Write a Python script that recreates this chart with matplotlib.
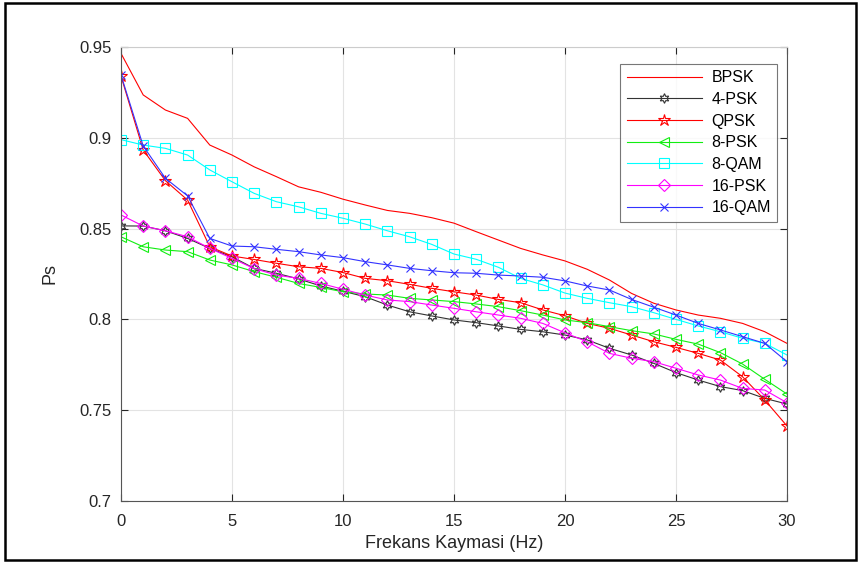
import numpy as np
import matplotlib
matplotlib.use("Agg")
import matplotlib.pyplot as plt
from matplotlib.patches import Rectangle

plt.rcParams['font.family'] = ['Liberation Sans', 'DejaVu Sans']

# frequency offset (Hz)
freq = list(range(31))

bpsk = [0.9465, 0.9236, 0.9153, 0.9107, 0.8960, 0.8905, 0.8840, 0.8786, 0.8730, 0.8700,
        0.8662, 0.8630, 0.8600, 0.8584, 0.8560, 0.8530, 0.8483, 0.8437, 0.8391, 0.8355,
        0.8322, 0.8276, 0.8217, 0.8143, 0.8089, 0.8052, 0.8024, 0.8006, 0.7978, 0.7932,
        0.7868]
psk4 = [0.8515, 0.8514, 0.8488, 0.8446, 0.8391, 0.8345, 0.8281, 0.8254, 0.8223, 0.8184,
        0.8155, 0.8125, 0.8079, 0.8042, 0.8019, 0.7997, 0.7982, 0.7964, 0.7945, 0.7932,
        0.7914, 0.7887, 0.7841, 0.7804, 0.7758, 0.7707, 0.7666, 0.7630, 0.7608, 0.7565,
        0.7534]
qpsk = [0.9340, 0.8933, 0.8764, 0.8657, 0.8400, 0.8349, 0.8330, 0.8309, 0.8290, 0.8281,
        0.8258, 0.8226, 0.8213, 0.8193, 0.8171, 0.8152, 0.8134, 0.8110, 0.8092, 0.8052,
        0.8020, 0.7978, 0.7951, 0.7914, 0.7877, 0.7846, 0.7813, 0.7776, 0.7684, 0.7556,
        0.7413]
psk8 = [0.8455, 0.8400, 0.8382, 0.8373, 0.8327, 0.8300, 0.8263, 0.8232, 0.8198, 0.8176,
        0.8152, 0.8140, 0.8134, 0.8116, 0.8107, 0.8098, 0.8085, 0.8070, 0.8048, 0.8024,
        0.7997, 0.7982, 0.7960, 0.7938, 0.7920, 0.7890, 0.7864, 0.7817, 0.7754, 0.7670,
        0.7589]
qam8 = [0.8990, 0.8960, 0.8942, 0.8905, 0.8823, 0.8758, 0.8694, 0.8648, 0.8620, 0.8584,
        0.8557, 0.8525, 0.8488, 0.8455, 0.8413, 0.8360, 0.8331, 0.8287, 0.8226, 0.8190,
        0.8145, 0.8116, 0.8092, 0.8070, 0.8037, 0.8000, 0.7964, 0.7932, 0.7896, 0.7868,
        0.7804]
psk16 = [0.8575, 0.8514, 0.8488, 0.8455, 0.8391, 0.8336, 0.8280, 0.8244, 0.8226, 0.8198,
         0.8166, 0.8134, 0.8107, 0.8098, 0.8079, 0.8061, 0.8042, 0.8024, 0.8006, 0.7978,
         0.7926, 0.7877, 0.7813, 0.7786, 0.7767, 0.7731, 0.7694, 0.7666, 0.7620, 0.7611,
         0.7541]
qam16 = [0.9346, 0.8955, 0.8777, 0.8680, 0.8446, 0.8404, 0.8400, 0.8386, 0.8373, 0.8355,
         0.8340, 0.8318, 0.8300, 0.8281, 0.8268, 0.8257, 0.8254, 0.8244, 0.8239, 0.8232,
         0.8212, 0.8184, 0.8162, 0.8110, 0.8067, 0.8024, 0.7978, 0.7942, 0.7905, 0.7868,
         0.7767]

labels = ['BPSK', '4-PSK', 'QPSK', '8-PSK', '8-QAM', '16-PSK', '16-QAM']

fig = plt.figure(figsize=(8.59, 5.62), dpi=100)
ax = fig.add_axes([121 / 859, 1 - 501 / 562, 666 / 859, 454 / 562])

lw = 0.8
ms = 7
ax.plot(freq, bpsk, color='red', lw=lw, label=labels[0])
ax.plot(freq, psk4, color='#333333', lw=lw, marker=(6, 1, 0), ms=ms, mfc='none', mew=0.8,
        label=labels[1])
ax.plot(freq, qpsk, color='red', lw=lw, marker='*', ms=ms + 2, mfc='none', mew=0.8,
        label=labels[2])
ax.plot(freq, psk8, color='#11ee11', lw=lw, marker='<', ms=ms, mfc='none', mew=0.8,
        label=labels[3])
ax.plot(freq, qam8, color='cyan', lw=lw, marker='s', ms=ms, mfc='none', mew=0.8,
        label=labels[4])
ax.plot(freq, psk16, color='magenta', lw=lw, marker='D', ms=ms - 1, mfc='none', mew=0.8,
        label=labels[5])
ax.plot(freq, qam16, color='#3333ff', lw=lw, marker='x', ms=ms - 1, mew=0.8,
        label=labels[6])

ax.set_xlim(0, 30)
ax.set_ylim(0.7, 0.95)
ax.set_xticks(range(0, 31, 5))
ax.set_yticks([0.7, 0.75, 0.8, 0.85, 0.9, 0.95])
ax.set_yticklabels(['0.7', '0.75', '0.8', '0.85', '0.9', '0.95'])
ax.grid(True, color='#e3e3e3', lw=0.8)
ax.set_axisbelow(True)
ax.tick_params(direction='in', top=True, right=True, labelsize=12, colors='#262626',
               length=5, width=0.8)
ax.tick_params(axis='x', pad=9)
ax.tick_params(axis='y', pad=7)
for s in ax.spines.values():
    s.set_color('#555555')
    s.set_linewidth(0.8)
ax.spines['top'].set_color('#cccccc')

ax.set_xlabel('Frekans Kaymasi (Hz)', fontsize=13, color='#262626', labelpad=5)
ax.set_ylabel('Ps', fontsize=13, color='#262626', labelpad=15)

leg = ax.legend(loc='upper right', bbox_to_anchor=(0.99, 0.97), fontsize=11.5,
                frameon=True, fancybox=False, handlelength=4.7, borderpad=0.4,
                labelspacing=0.42, handletextpad=0.6, borderaxespad=0.2)
leg.get_frame().set_edgecolor('#555555')
leg.get_frame().set_linewidth(0.8)

# outer frame around the whole picture
fig.patches.append(Rectangle((0.006, 0.004), 0.99, 0.99, transform=fig.transFigure,
                             fill=False, edgecolor='black', lw=1.8))

fig.savefig('out.png', dpi=100)
